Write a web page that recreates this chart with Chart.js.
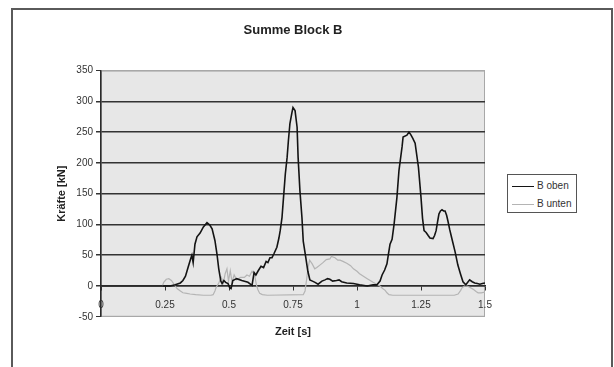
<!DOCTYPE html>
<html>
<head>
<meta charset="utf-8">
<script src="https://cdn.jsdelivr.net/npm/chart.js"></script>
<style>
  html, body { margin: 0; padding: 0; background: #fff; }
  #wrap { position: relative; width: 614px; height: 367px; overflow: hidden; }
  #frame { position: absolute; left: 11px; top: 8px; width: 598px; height: 400px; border: 2px solid #5a5a5a; }
  #chart { position: absolute; left: 0; top: 0; }
  #legend { position: absolute; left: 507px; top: 174px; width: 68px; height: 37px; border: 1.5px solid #555;
            font: 10px "Liberation Sans", Arial, sans-serif; color: #333; background: #fff; }
  #legend .item { position: absolute; left: 4px; height: 12px; line-height: 12px; white-space: nowrap; }
  #legend .swatch { display: inline-block; width: 22px; height: 0; border-top: 1.5px solid #000; vertical-align: middle; margin-right: 3px; }
</style>
</head>
<body>
<div id="wrap">
  <div id="frame"></div>
  <canvas id="chart" width="614" height="367"></canvas>
  <div id="legend"></div>
</div>
<script>
// Summe Block B - Kraefte ueber Zeit
const seriesNames = ['B oben', 'B unten'];

const obenTime = [0, 0.27, 0.29, 0.31, 0.32, 0.33, 0.34, 0.35, 0.355, 0.36, 0.367, 0.375, 0.387, 0.4, 0.414, 0.425, 0.434, 0.445, 0.453, 0.46,
  0.468, 0.473, 0.48, 0.487, 0.496, 0.503, 0.508, 0.515, 0.53, 0.55, 0.574, 0.59, 0.598, 0.605, 0.613, 0.625, 0.635, 0.645, 0.652, 0.66,
  0.668, 0.675, 0.687, 0.695, 0.7, 0.707, 0.713, 0.72, 0.727, 0.732, 0.738, 0.746, 0.75, 0.758, 0.766, 0.77, 0.777, 0.785, 0.79, 0.8,
  0.808, 0.816, 0.826, 0.836, 0.848, 0.863, 0.875, 0.885, 0.894, 0.905, 0.92, 0.93, 0.94, 0.96, 0.986, 1.01, 1.04, 1.063, 1.078, 1.09,
  1.098, 1.108, 1.117, 1.124, 1.129, 1.137, 1.145, 1.156, 1.164, 1.176, 1.18, 1.195, 1.203, 1.21, 1.218, 1.227, 1.24, 1.25, 1.256, 1.262,
  1.27, 1.278, 1.285, 1.297, 1.303, 1.309, 1.315, 1.32, 1.326, 1.332, 1.338, 1.344, 1.35, 1.355, 1.362, 1.37, 1.383, 1.394, 1.404, 1.414,
  1.425, 1.44, 1.45, 1.46, 1.47, 1.48, 1.49, 1.5];
const obenForce = [0, 0, 2, 5, 9, 16, 30, 44, 50, 38, 68, 80, 86, 96, 103, 99, 93, 74, 52, 28,
  8, 4, 9, 6, 4, -3, -4, 9, 12, 9, 6, 1, 22, 18, 24, 32, 30, 40, 38, 46,
  46, 52, 63, 78, 90, 111, 144, 182, 209, 236, 264, 282, 290, 285, 258, 209, 155, 111, 73, 46,
  24, 10, 8, 6, 3, 8, 10, 12, 11, 8, 9, 10, 7, 5, 4, 2, 0, 2, 2, 8,
  18, 26, 36, 55, 68, 76, 101, 144, 188, 226, 242, 245, 250, 246, 240, 232, 193, 144, 110, 90,
  87, 82, 78, 77, 82, 90, 105, 117, 122, 124, 122, 122, 115, 106, 92, 78, 56, 34, 20, 7,
  2, 10, 7, 5, 4, 3, 4, 5];

const untenTime = [0, 0.24, 0.245, 0.255, 0.265, 0.275, 0.285, 0.29, 0.297, 0.31, 0.32, 0.335, 0.348, 0.37, 0.4, 0.43, 0.438, 0.445, 0.45, 0.46,
  0.47, 0.478, 0.485, 0.492, 0.498, 0.505, 0.512, 0.52, 0.53, 0.545, 0.56, 0.57, 0.58, 0.59, 0.6, 0.607, 0.613, 0.62, 0.63, 0.65,
  0.79, 0.797, 0.803, 0.809, 0.815, 0.825, 0.835, 0.843, 0.855, 0.867, 0.88, 0.894, 0.9, 0.914, 0.925, 0.934, 0.945, 0.96, 0.975, 0.986,
  1.0, 1.01, 1.025, 1.04, 1.063, 1.08, 1.09, 1.1, 1.11, 1.117, 1.125, 1.14, 1.38, 1.395, 1.405, 1.41, 1.42, 1.43, 1.44, 1.453,
  1.465, 1.473, 1.485, 1.5];
const untenForce = [0, 0, 6, 11, 12, 9, 3, 0, -4, -8, -11, -12, -13, -14, -15, -15, -14, -8, -2, 5,
  14, 5, 20, 28, 8, 25, 6, 18, 10, 14, 14, 18, 16, 24, 18, 2, -6, -12, -14, -15,
  -14, -8, 10, 30, 42, 36, 28, 30, 34, 38, 43, 44, 48, 46, 42, 42, 40, 37, 33, 28,
  24, 20, 16, 12, 6, 2, 0, -4, -7, -11, -14, -15, -15, -13, -7, -3, 0, 0, -2, -5,
  -9, -11, -11, -10];

const timeMin = 0, timeMax = 1.5, timeStep = 0.25;
const forceMin = -50, forceMax = 350, forceStep = 50;

const FONT = '"Liberation Sans", Arial, sans-serif';

function toPoints(t, v) {
  return t.map((x, i) => ({ x: x, y: v[i] }));
}

// grey plot background
const plotBg = {
  id: 'plotBg',
  beforeDraw(chart) {
    const a = chart.chartArea, ctx = chart.ctx;
    ctx.save();
    ctx.fillStyle = '#e7e7e7';
    ctx.fillRect(a.left, a.top, a.right - a.left, a.bottom - a.top);
    ctx.strokeStyle = '#a8a8a8';
    ctx.lineWidth = 1;
    ctx.strokeRect(a.left + 0.5, a.top + 0.5, a.right - a.left - 1, a.bottom - a.top - 1);
    ctx.restore();
  }
};

// legend as html box, built from the datasets
const htmlLegend = {
  id: 'htmlLegend',
  afterUpdate(chart) {
    const box = document.getElementById('legend');
    box.innerHTML = '';
    const items = chart.options.plugins.legend.labels.generateLabels(chart);
    items.forEach((item, i) => {
      const row = document.createElement('div');
      row.className = 'item';
      row.style.top = (5 + i * 18) + 'px';
      const sw = document.createElement('span');
      sw.className = 'swatch';
      sw.style.borderTopColor = item.strokeStyle;
      const tx = document.createElement('span');
      tx.textContent = item.text;
      row.append(sw, tx);
      box.append(row);
    });
  }
};

new Chart(document.getElementById('chart').getContext('2d'), {
  type: 'line',
  data: {
    datasets: [{
      label: seriesNames[0],
      data: toPoints(obenTime, obenForce),
      borderColor: '#141414',
      backgroundColor: '#141414',
      borderWidth: 1.6
    }, {
      label: seriesNames[1],
      data: toPoints(untenTime, untenForce),
      borderColor: '#b4b4b4',
      backgroundColor: '#b4b4b4',
      borderWidth: 1.2
    }]
  },
  options: {
    responsive: false,
    animation: false,
    events: [],
    elements: { point: { radius: 0 }, line: { tension: 0 } },
    layout: { padding: { left: 12, right: 129, top: 0, bottom: 28 } },
    plugins: {
      legend: { display: false },
      tooltip: { enabled: false },
      title: {
        display: true,
        text: 'Summe Block B',
        fullSize: false,
        color: '#222',
        font: { family: FONT, size: 13, weight: 'bold' },
        padding: { top: 23, bottom: 32 }
      },
      subtitle: {
        display: true,
        position: 'bottom',
        text: 'Zeit [s]',
        fullSize: false,
        color: '#222',
        font: { family: FONT, size: 11, weight: 'bold' },
        padding: { top: 9, bottom: 0 }
      }
    },
    scales: {
      x: {
        type: 'linear',
        min: timeMin,
        max: timeMax,
        position: { y: 0 },
        afterFit: s => { s.height = 0; },
        ticks: {
          stepSize: timeStep, color: '#333', padding: 9, maxRotation: 0, font: { family: FONT, size: 10 },
          callback: v => String(Math.round(v * 100) / 100)
        },
        grid: { drawOnChartArea: false, drawTicks: true, tickLength: 4, color: '#333' },
        border: { display: true, color: '#2a2a2a', width: 1.5 }
      },
      y: {
        min: forceMin,
        max: forceMax,
        afterFit: s => { s.width = 89; },
        ticks: { stepSize: forceStep, color: '#333', padding: 3, font: { family: FONT, size: 10 } },
        grid: {
          color: c => (c.tick && (c.tick.value === forceMax || c.tick.value === forceMin)) ? '#a8a8a8' : '#333',
          lineWidth: c => (c.tick && (c.tick.value === forceMax || c.tick.value === forceMin)) ? 1 : 1.5,
          tickLength: 5,
          tickColor: '#333'
        },
        border: { display: true, color: '#2a2a2a', width: 1.5 },
        title: {
          display: true,
          text: 'Kräfte [kN]',
          color: '#222',
          font: { family: FONT, size: 11, weight: 'bold' },
          padding: { top: 43, bottom: 0 }
        }
      }
    }
  },
  plugins: [plotBg, htmlLegend]
});
</script>
</body>
</html>
